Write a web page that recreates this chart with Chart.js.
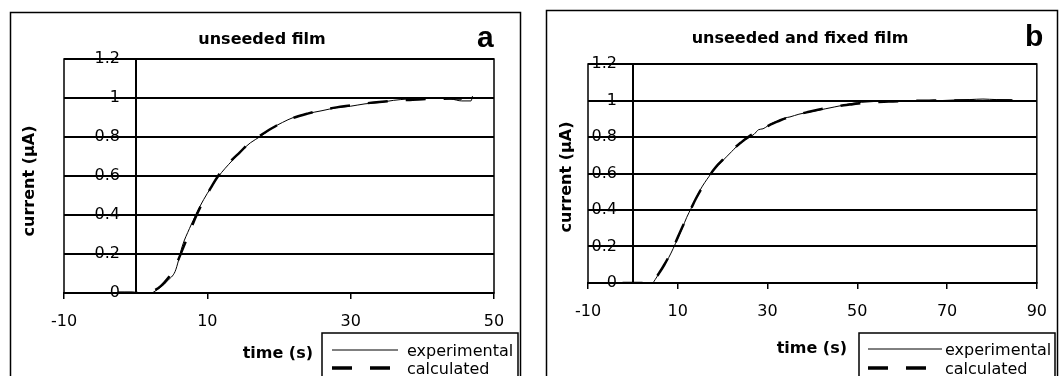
<!DOCTYPE html>
<html>
<head>
<meta charset="utf-8">
<script src="https://cdn.jsdelivr.net/npm/chart.js@4.4.1/dist/chart.umd.min.js"></script>
<style>
  html, body { margin: 0; padding: 0; background: #fff; }
  #wrap { position: relative; width: 1060px; height: 376px; overflow: hidden; }
  canvas { position: absolute; top: 0; }
  #chartA { left: 0; }
  #chartB { left: 530px; }
</style>
</head>
<body>
<div id="wrap">
  <canvas id="chartA" width="530" height="376"></canvas>
  <canvas id="chartB" width="530" height="376"></canvas>
</div>
<script>
// panel a : unseeded film
const timeA = [-2.5, -1.5, -0.5, 0.5, 1.5, 2.5, 3.5, 4.5, 5.5, 6, 6.5, 7.5, 8.5, 9.5, 10.5, 11.5, 12.5, 13.5, 14.5, 16,
               17.5, 19, 20.5, 22, 24, 26, 28, 30, 32, 34, 36, 38, 40, 42, 44, 45.5, 46.8, 47];
const expA  = [0.005, 0.005, 0.005, -0.003, -0.008, 0.005, 0.03, 0.065, 0.11, 0.17, 0.24, 0.33, 0.41, 0.48, 0.54, 0.595, 0.64, 0.68, 0.72, 0.77,
               0.805, 0.845, 0.875, 0.9, 0.92, 0.935, 0.95, 0.958, 0.97, 0.977, 0.988, 0.995, 0.997, 0.998, 0.995, 0.985, 0.985, 1.01];
const calcA = [0, 0, 0, 0, 0.002, 0.012, 0.035, 0.075, 0.13, 0.175, 0.22, 0.31, 0.4, 0.475, 0.54, 0.6, 0.645, 0.685, 0.72, 0.775,
               0.81, 0.845, 0.875, 0.898, 0.92, 0.938, 0.952, 0.962, 0.972, 0.98, 0.986, 0.99, 0.994, 0.996, 0.997, 0.997, null, null];

// panel b : unseeded and fixed film
const timeB = [-2.3, 0, 2, 3, 4, 5, 6, 7, 8, 9, 10, 11, 12, 13, 14, 15, 16, 17, 18, 19, 20, 21, 22, 23, 24, 25, 26, 27, 28, 29,
               30, 31, 32, 33, 34, 35, 37, 39, 41, 43, 45, 47, 49, 51, 54, 57, 60, 63, 66, 69, 72, 75, 78, 81, 84, 85.5];
const expB  = [0, 0, 0, -0.002, -0.01, 0.02, 0.06, 0.1, 0.14, 0.19, 0.245, 0.3, 0.36, 0.41, 0.46, 0.51, 0.55, 0.585, 0.62, 0.645,
               0.67, 0.695, 0.72, 0.745, 0.765, 0.785, 0.8, 0.815, 0.84, 0.845, 0.86, 0.875, 0.885, 0.895, 0.905, 0.91,
               0.925, 0.935, 0.945, 0.955, 0.965, 0.975, 0.985, 0.99, 0.995, 0.998, 1.0, 1.0, 0.998, 1.0, 1.003, 1.005, 1.008, 1.005, 1.004, 0.995];
const calcB = [0, 0, 0, 0, 0.003, 0.025, 0.06, 0.1, 0.145, 0.195, 0.25, 0.305, 0.36, 0.41, 0.46, 0.505, 0.545, 0.585, 0.62, 0.65,
               0.675, 0.7, 0.725, 0.748, 0.768, 0.788, 0.805, 0.82, 0.835, 0.848, 0.86, 0.872, 0.883, 0.893, 0.902, 0.91,
               0.925, 0.937, 0.948, 0.958, 0.966, 0.974, 0.98, 0.986, 0.991, 0.995, 0.997, 0.998, 0.999, 1.0, 1.0, 1.0, 1.0, 1.0, 1.0, 1.0];

// axes
const xTicksA = [-10, 10, 30, 50];
const xTicksB = [-10, 10, 30, 50, 70, 90];
const yTicks = [0, 0.2, 0.4, 0.6, 0.8, 1, 1.2];
const yTickLabels = ['0', '0.2', '0.4', '0.6', '0.8', '1', '1.2'];
const seriesNames = ['experimental', 'calculated'];

const FONT = 'DejaVu Sans';

const toPoints = (t, v) => t.map((x, i) => ({ x, y: v[i] }));

// frame, titles and legend box, drawn like the Excel figure
const decor = {
  id: 'decor',
  afterDraw(chart, args, o) {
    const ctx = chart.ctx, a = chart.chartArea;
    ctx.save();
    ctx.strokeStyle = '#000';
    ctx.fillStyle = '#000';

    ctx.lineWidth = 1.5;
    ctx.strokeRect(o.frame[0], o.frame[1], o.frame[2] - o.frame[0], 400);

    ctx.lineWidth = 1.5;
    ctx.strokeRect(a.left, a.top, a.right - a.left, a.bottom - a.top);

    ctx.textBaseline = 'alphabetic';
    ctx.font = 'bold 16px "' + FONT + '"';
    ctx.textAlign = 'center';
    ctx.fillText(o.title, o.titleX, o.titleY);

    ctx.font = 'bold 30px "Liberation Sans"';
    ctx.textAlign = 'left';
    ctx.fillText(o.letter, o.letterX, o.letterY);

    ctx.font = 'bold 16px "' + FONT + '"';
    ctx.textAlign = 'right';
    ctx.fillText('time (s)', o.xTitleX, o.xTitleY);

    ctx.save();
    ctx.translate(o.yTitleX, o.yTitleY);
    ctx.rotate(-Math.PI / 2);
    ctx.textAlign = 'center';
    ctx.textBaseline = 'middle';
    ctx.fillText('current (µA)', 0, 0);
    ctx.restore();

    // legend
    const lg = o.legend;
    ctx.lineWidth = 1.5;
    ctx.strokeRect(lg.left, lg.top, lg.right - lg.left, 100);
    ctx.font = '16px "' + FONT + '"';
    ctx.textAlign = 'left';
    chart.data.datasets.forEach((ds, i) => {
      const y = lg.rows[i];
      ctx.save();
      ctx.lineWidth = ds.borderWidth === 1 ? 1 : 3.5;
      ctx.setLineDash(ds.borderDash || []);
      ctx.beginPath();
      ctx.moveTo(lg.lineFrom, y);
      ctx.lineTo(lg.lineTo, y);
      ctx.stroke();
      ctx.restore();
      ctx.fillText(ds.label, lg.textX, y + 6);
    });
    ctx.restore();
  }
};

function makePanel(id, time, exp, calc, xMin, xMax, xTicks, pad, labelAt, deco) {
  return new Chart(document.getElementById(id), {
    type: 'line',
    data: {
      datasets: [
        { label: seriesNames[0], data: toPoints(time, exp), borderColor: '#000', borderWidth: 1,
          yAxisID: 'y', xAxisID: 'x' },
        { label: seriesNames[1], data: toPoints(time, calc), borderColor: '#000', borderWidth: 2.5,
          borderDash: [20, 18], yAxisID: 'y', xAxisID: 'x' }
      ]
    },
    options: {
      responsive: false,
      animation: false,
      devicePixelRatio: 1,
      layout: { padding: pad },
      elements: { point: { radius: 0 }, line: { cubicInterpolationMode: 'monotone', fill: false } },
      plugins: { legend: { display: false }, tooltip: { enabled: false }, decor: deco },
      scales: {
        x: {
          type: 'linear', min: xMin, max: xMax,
          afterBuildTicks: s => { s.ticks = xTicks.map(v => ({ value: v })); },
          afterFit: s => { s.height = 40; },
          grid: { drawOnChartArea: false, drawTicks: true, tickLength: 6, tickColor: '#000', lineWidth: 1.5 },
          border: { color: '#000', width: 2 },
          ticks: { color: '#000', font: { family: FONT, size: 16 }, padding: 13, maxRotation: 0, autoSkip: false }
        },
        // value labels sit just left of the time-zero axis, Excel style
        y: {
          type: 'linear', axis: 'y', position: { x: labelAt }, min: 0, max: 1.2,
          afterBuildTicks: s => { s.ticks = yTicks.map(v => ({ value: v })); },
          grid: { color: '#000', lineWidth: 2, drawTicks: false },
          border: { display: false },
          ticks: { color: '#000', font: { family: FONT, size: 16 }, padding: 0,
                   callback: (v, i) => yTickLabels[i] }
        },
        // the vertical axis crossing at time 0
        y0: {
          type: 'linear', axis: 'y', position: { x: 0 }, min: 0, max: 1.2,
          grid: { display: false }, ticks: { display: false },
          border: { color: '#000', width: 2 }
        }
      }
    },
    plugins: [decor]
  });
}

makePanel('chartA', timeA, expA, calcA, -10, 50, xTicksA,
  { left: 64, right: 36, top: 59, bottom: 43 }, -2.19,
  { frame: [10.5, 12.5, 520.5], title: 'unseeded film', titleX: 262, titleY: 44,
    letter: 'a', letterX: 477, letterY: 47, xTitleX: 313, xTitleY: 358, yTitleX: 30, yTitleY: 181,
    legend: { left: 322, top: 333, right: 518, lineFrom: 332, lineTo: 398, textX: 407, rows: [350, 368] } });

makePanel('chartB', timeB, expB, calcB, -10, 90, xTicksB,
  { left: 58, right: 22, top: 64, bottom: 53 }, -3.56,
  { frame: [16.5, 10.5, 527.5], title: 'unseeded and fixed film', titleX: 270, titleY: 43,
    letter: 'b', letterX: 495, letterY: 46, xTitleX: 317, xTitleY: 353, yTitleX: 37, yTitleY: 177,
    legend: { left: 329, top: 333, right: 525, lineFrom: 338, lineTo: 412, textX: 415, rows: [349, 368] } });
</script>
</body>
</html>
